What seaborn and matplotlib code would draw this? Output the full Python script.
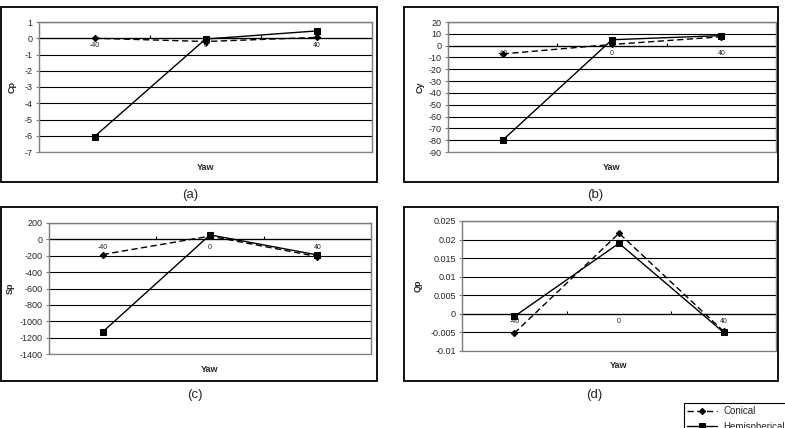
import matplotlib
matplotlib.use("Agg")
import matplotlib.pyplot as plt
import seaborn as sns
from matplotlib.patches import Rectangle
from matplotlib.ticker import MultipleLocator, FuncFormatter, FixedLocator

# ---------------- data ----------------
yaw = ["-40", "0", "40"]
series_names = ["Conical", "Hemispherical"]

cp_conical = [0.0, -0.2, 0.05]
cp_hemi = [-6.05, -0.05, 0.45]
cy_conical = [-7.0, 1.0, 7.5]
cy_hemi = [-80.0, 5.0, 8.5]
sp_conical = [-185.0, 40.0, -210.0]
sp_hemi = [-1130.0, 55.0, -190.0]
qp_conical = [-0.0052, 0.0217, -0.0047]
qp_hemi = [-0.0007, 0.019, -0.005]

conical_sets = [cp_conical, cy_conical, sp_conical, qp_conical]
hemi_sets = [cp_hemi, cy_hemi, sp_hemi, qp_hemi]

panel_letters = ["(a)", "(b)", "(c)", "(d)"]
y_names = ["Cp", "Cy", "Sp", "Qp"]
y_limits = [(-7, 1), (-90, 20), (-1400, 200), (-0.01, 0.025)]
y_steps = [1, 10, 200, 0.005]

# ---------------- layout (pixels) ----------------
W, H = 785, 428
plot_rects = [(39, 22, 372, 152), (448, 22, 776, 152),
              (49, 223, 371, 354), (462, 221, 776, 351)]
box_rects = [(1, 7, 377, 182), (404, 7, 778, 182),
             (1, 207, 377, 381), (404, 207, 778, 381)]
letter_pos = [(190, 195), (595, 195), (195, 395), (594, 395)]
ylabel_x = [-0.081, -0.085, -0.121, -0.14]
xlabel_y = [-0.123, -0.123, -0.122, -0.115]
square_sizes = [3.8, 3.8, 3.8, 5.0]

sns.set_style("ticks")
plt.rcParams["font.family"] = ["Liberation Sans", "DejaVu Sans"]

fig = plt.figure(figsize=(W / 100, H / 100), dpi=100)
fig.patch.set_facecolor("white")

grey = "#808080"
axes = []
for i in range(4):
    l, t, r, b = plot_rects[i]
    ax = fig.add_axes([l / W, 1 - b / H, (r - l) / W, (b - t) / H])
    axes.append(ax)

    sns.lineplot(x=yaw, y=conical_sets[i], ax=ax, color="black", lw=1.0,
                 linestyle=(0, (4.5, 2.5)), marker="D", markersize=3.2,
                 label=series_names[0], errorbar=None, legend=False, zorder=4)
    sns.lineplot(x=yaw, y=hemi_sets[i], ax=ax, color="black", lw=1.0,
                 linestyle="-", marker="s", markersize=square_sizes[i],
                 label=series_names[1], errorbar=None, legend=False, zorder=5)
    for line in ax.lines:
        line.set_markeredgecolor("black")
        line.set_markerfacecolor("black")
    if ax.get_legend() is not None:
        ax.get_legend().remove()

    ax.set_xlim(-0.5, 2.5)
    ax.set_ylim(*y_limits[i])
    ax.yaxis.set_major_locator(MultipleLocator(y_steps[i]))
    ax.yaxis.set_major_formatter(
        FuncFormatter(lambda v, p: "0" if abs(v) < 1e-12 else f"{v:g}"))

    # category axis crossing at zero
    ax.spines["bottom"].set_position(("data", 0))
    ax.spines["bottom"].set_color("black")
    ax.spines["bottom"].set_linewidth(0.9)
    for s in ["top", "right", "left"]:
        ax.spines[s].set_color(grey)
        ax.spines[s].set_linewidth(0.9)
    ax.add_patch(Rectangle((0, 0), 1, 1, transform=ax.transAxes, fill=False,
                           ec=grey, lw=0.9, clip_on=False, zorder=3))

    ax.grid(axis="y", color="black", lw=0.8)
    ax.set_axisbelow(True)

    ax.xaxis.set_minor_locator(FixedLocator([0.5, 1.5]))
    ax.tick_params(axis="x", which="major", length=0, labelsize=5, pad=3,
                   labelcolor="#222222")
    ax.tick_params(axis="x", which="minor", length=2.5, direction="in",
                   color="black", width=0.8)
    ax.tick_params(axis="y", length=2.5, direction="out", color=grey,
                   labelsize=6.5, pad=2, width=0.8)

    ax.set_xlabel("Yaw", fontsize=6.5, fontweight="bold")
    ax.xaxis.set_label_coords(0.5, xlabel_y[i])
    ax.xaxis.label.set_va("center")
    ax.set_ylabel(y_names[i], fontsize=6.5, fontweight="bold")
    ax.yaxis.set_label_coords(ylabel_x[i], 0.5)
    ax.yaxis.label.set_va("center")

    # outer panel frame
    x0, y0, x1, y1 = box_rects[i]
    fig.add_artist(Rectangle((x0 / W, 1 - y1 / H), (x1 - x0) / W, (y1 - y0) / H,
                             transform=fig.transFigure, fill=False,
                             ec="black", lw=1.3))
    lx, ly = letter_pos[i]
    fig.text(lx / W, 1 - ly / H, panel_letters[i], ha="center", va="center",
             fontsize=9.5)

handles = axes[0].lines[:2]
leg = fig.legend(handles, series_names, loc="upper left",
                 bbox_to_anchor=(684 / W, 1 - 403 / H, 130 / W, 0),
                 mode="expand", frameon=True,
                 fancybox=False, edgecolor="black", framealpha=1,
                 fontsize=7, handlelength=3.0, borderpad=0.35,
                 labelspacing=0.55, handletextpad=0.7, borderaxespad=0)
leg.get_frame().set_linewidth(0.8)

fig.savefig("out.png", dpi=100)
